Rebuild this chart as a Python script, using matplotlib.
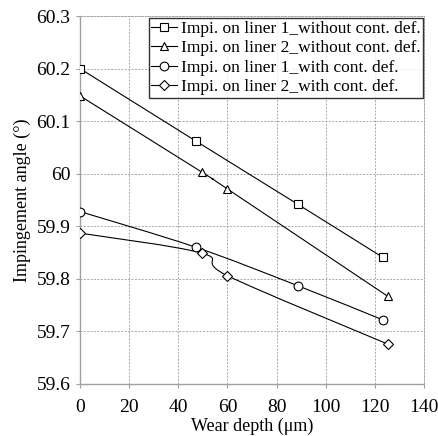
import numpy as np
import matplotlib
matplotlib.use('Agg')
import matplotlib.pyplot as plt
from matplotlib.path import Path
from matplotlib.patches import PathPatch
from matplotlib.lines import Line2D

plt.rcParams['font.family'] = ['Liberation Serif', 'DejaVu Serif']

# wear depth (um) and impingement angle (deg) for each case
depth_l1_wo = [0, 47.2, 88.6, 123.2]
angle_l1_wo = [60.200, 60.062, 59.942, 59.841]
depth_l2_wo = [0, 49.6, 60.0, 125.2]
angle_l2_wo = [60.148, 60.003, 59.971, 59.767]
depth_l1_w = [0, 47.2, 88.6, 123.2]
angle_l1_w = [59.928, 59.860, 59.787, 59.722]
depth_l2_w = [0, 49.6, 60.0, 125.2]
angle_l2_w = [59.887, 59.849, 59.806, 59.676]

labels = ['Impi. on liner 1_without cont. def.',
          'Impi. on liner 2_without cont. def.',
          'Impi. on liner 1_with cont. def.',
          'Impi. on liner 2_with cont. def.']
markers = ['s', '^', 'o', 'D']

xticks = [0, 20, 40, 60, 80, 100, 120, 140]
yticks = [59.6, 59.7, 59.8, 59.9, 60.0, 60.1, 60.2, 60.3]
yticklabels = ['59.6', '59.7', '59.8', '59.9', '60', '60.1', '60.2', '60.3']


def smooth_path(x, y):
    # spreadsheet-style smoothed line: cubic bezier segments, tangents from neighbours
    p = np.column_stack([x, y]).astype(float)
    n = len(p)
    verts = [p[0]]
    codes = [Path.MOVETO]
    for i in range(n - 1):
        p0 = p[i - 1] if i > 0 else p[i]
        p3 = p[i + 2] if i + 2 < n else p[i + 1]
        c1 = p[i] + (p[i + 1] - p0) / 6.0
        c2 = p[i + 1] - (p3 - p[i]) / 6.0
        verts += [c1, c2, p[i + 1]]
        codes += [Path.CURVE4] * 3
    return Path(verts, codes)


fig = plt.figure(figsize=(4.38, 4.36), dpi=100)
ax = fig.add_axes([0.1826, 0.1193, 0.7854, 0.8440])

series = [(depth_l1_wo, angle_l1_wo), (depth_l2_wo, angle_l2_wo),
          (depth_l1_w, angle_l1_w), (depth_l2_w, angle_l2_w)]
handles = []
for (x, y), m, lab in zip(series, markers, labels):
    ax.add_patch(PathPatch(smooth_path(x, y), facecolor='none',
                           edgecolor='black', lw=0.8, zorder=3))
    ms = 5.2 if m == 'D' else 6.3
    ax.plot(x, y, linestyle='none', marker=m, ms=ms, mfc='white',
            mec='black', mew=0.8, zorder=4)
    handles.append(Line2D([], [], color='black', lw=0.8, marker=m, ms=ms,
                          mfc='white', mec='black', mew=0.8, label=lab))

ax.set_xlim(0, 140)
ax.set_ylim(59.6, 60.3)
ax.set_xticks(xticks)
ax.set_yticks(yticks)
ax.set_yticklabels(yticklabels)
ax.tick_params(axis='both', direction='out', length=3, width=0.8,
               color='#a0a0a0', labelsize=14, pad=4)
ax.tick_params(axis='x', pad=8)
ax.grid(True, color='#a8a8a8', linestyle=(0, (2, 1.5)), lw=0.7)
ax.set_axisbelow(True)
for s in ['left', 'bottom']:
    ax.spines[s].set_color('#a0a0a0')
    ax.spines[s].set_linewidth(1.0)
for s in ['top', 'right']:
    ax.spines[s].set_color('#a8a8a8')
    ax.spines[s].set_linestyle((0, (2, 1.5)))
    ax.spines[s].set_linewidth(0.7)

ax.set_xlabel('Wear depth (\u03bcm)', fontsize=13, labelpad=1)
ax.set_ylabel('Impingement angle (\u00b0)', fontsize=13, labelpad=4)

leg = ax.legend(handles=handles, loc='upper right', bbox_to_anchor=(0.997, 0.995),
                borderaxespad=0, fontsize=12.5, frameon=True, fancybox=False,
                handlelength=1.5, handletextpad=0.2, labelspacing=0.2,
                borderpad=0.15)
leg.get_frame().set_edgecolor('black')
leg.get_frame().set_linewidth(1.0)

fig.savefig('out.png', dpi=100)
